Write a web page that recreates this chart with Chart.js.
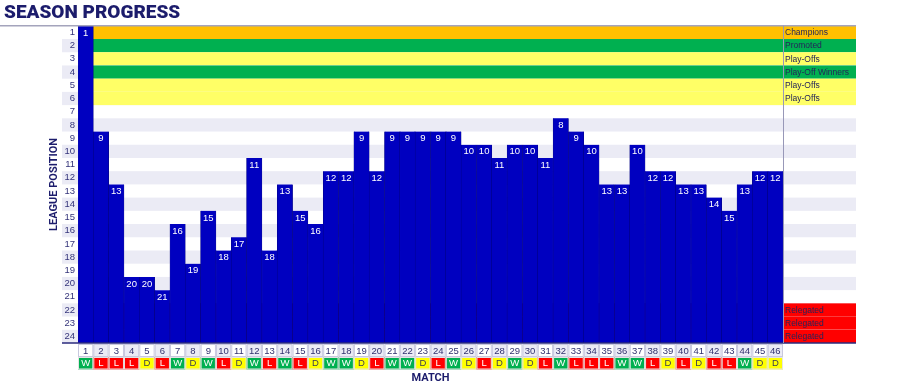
<!DOCTYPE html>
<html>
<head>
<meta charset="utf-8">
<title>Season Progress</title>
<script src="https://cdn.jsdelivr.net/npm/chart.js@4.4.1/dist/chart.umd.min.js"></script>
<style>
  body { margin: 0; background: #fff; }
  #wrap { width: 900px; height: 386px; }
</style>
</head>
<body>
<div id="wrap"><canvas id="progress"></canvas></div>
<script>
// Start Data
const matches = ['1','2','3','4','5','6','7','8','9','10','11','12','13','14','15','16','17','18','19','20','21','22','23',
  '24','25','26','27','28','29','30','31','32','33','34','35','36','37','38','39','40','41','42','43','44','45','46'];
const positions = [1, 9, 13, 20, 20, 21, 16, 19, 15, 18, 17, 11, 18, 13, 15, 16, 12, 12, 9, 12, 9, 9, 9,
  9, 9, 10, 10, 11, 10, 10, 11, 8, 9, 10, 13, 13, 10, 12, 12, 13, 13, 14, 15, 13, 12, 12];
const results = ['W','L','L','L','D','L','W','D','W','L','D','W','L','W','L','D','W','W','D','L','W','W','D',
  'L','W','D','L','D','W','D','L','W','L','L','L','W','W','L','D','L','D','L','L','W','D','D'];
const rowLabels = [1,2,3,4,5,6,7,8,9,10,11,12,13,14,15,16,17,18,19,20,21,22,23,24];
const zoneRows = [1, 2, 3, 4, 5, 6, 22, 23, 24];
const zoneNames = ['Champions','Promoted','Play-Offs','Play-Off Winners','Play-Offs','Play-Offs','Relegated','Relegated','Relegated'];
const zoneColors = ['#ffc000','#00b050','#ffff66','#00b050','#ffff66','#ffff66','#ff0000','#ff0000','#ff0000'];
const resultColors = { W: '#00b050', L: '#ff0000', D: '#ffff00' };
// End Data

const LAV = '#ebebf5';
const NAVY = '#1c1c6c';
const SMALL = '"Liberation Sans", Arial, sans-serif';

// Start Background / Extras
const extras = {
  id: 'extras',
  beforeDraw(chart) {
    const { ctx, chartArea: a, scales: { x, y } } = chart;
    const legendRight = a.right + 73;
    ctx.save();
    rowLabels.forEach(function(r){
      const y0 = y.getPixelForValue(r - 0.5), y1 = y.getPixelForValue(r + 0.5);
      const z = zoneRows.indexOf(r);
      if (r % 2 === 0) {
        ctx.fillStyle = LAV;
        ctx.fillRect(a.left - 16, y0, legendRight - a.left + 16, y1 - y0);
      }
      if (z >= 0) {
        ctx.fillStyle = zoneColors[z];
        ctx.fillRect(a.left, y0, legendRight - a.left, y1 - y0);
      }
    });
    // match number cells
    const cw = x.getPixelForValue(1) - x.getPixelForValue(0);
    matches.forEach(function(m, i){
      const cx = x.getPixelForValue(i) - cw / 2;
      ctx.fillStyle = i % 2 ? LAV : '#fff';
      ctx.fillRect(cx, a.bottom + 1, cw, 13);
      ctx.strokeStyle = '#c8c8de';
      ctx.lineWidth = 1;
      ctx.strokeRect(cx + 0.5, a.bottom + 1.5, cw - 1, 12);
    });
    ctx.restore();
  },
  afterDatasetsDraw(chart) {
    const { ctx, scales: { y } } = chart;
    const meta = chart.getDatasetMeta(0);
    ctx.save();
    ctx.fillStyle = '#fff';
    ctx.font = '9.5px ' + SMALL;
    ctx.textAlign = 'center';
    ctx.textBaseline = 'middle';
    meta.data.forEach(function(bar, i){
      ctx.fillText(String(positions[i]), bar.x, y.getPixelForValue(positions[i]) + 0.5);
    });
    ctx.restore();
  },
  afterDraw(chart) {
    const { ctx, chartArea: a, scales: { x, y } } = chart;
    const legendRight = a.right + 73;
    ctx.save();
    // zone names
    ctx.font = '8.5px ' + SMALL;
    ctx.textAlign = 'left';
    ctx.textBaseline = 'middle';
    ctx.fillStyle = '#24245a';
    zoneRows.forEach(function(r, i){
      ctx.fillText(zoneNames[i], a.right + 2, y.getPixelForValue(r) + 0.5, 71);
    });
    // lines
    ctx.lineWidth = 1.5;
    ctx.strokeStyle = '#a4a4bc';
    ctx.beginPath(); ctx.moveTo(0, a.top); ctx.lineTo(legendRight, a.top); ctx.stroke();
    ctx.strokeStyle = '#2a2a7c';
    ctx.beginPath(); ctx.moveTo(a.left - 16, a.bottom); ctx.lineTo(legendRight, a.bottom); ctx.stroke();
    ctx.lineWidth = 1;
    ctx.strokeStyle = '#9898b8';
    ctx.beginPath(); ctx.moveTo(a.right + 0.5, a.top); ctx.lineTo(a.right + 0.5, a.bottom); ctx.stroke();
    // results row
    const cw = x.getPixelForValue(1) - x.getPixelForValue(0);
    ctx.font = '9.5px ' + SMALL;
    ctx.textAlign = 'center';
    results.forEach(function(r, i){
      const cx = x.getPixelForValue(i) - cw / 2;
      ctx.fillStyle = resultColors[r];
      ctx.fillRect(cx, a.bottom + 14, cw, 12.5);
      ctx.strokeStyle = '#e4e4e4';
      ctx.strokeRect(cx + 0.5, a.bottom + 14.5, cw - 1, 11.5);
      ctx.fillStyle = r === 'D' ? '#3c3c50' : '#fff';
      ctx.fillText(r, x.getPixelForValue(i), a.bottom + 20.5);
    });
    // x title
    ctx.fillStyle = NAVY;
    ctx.font = 'bold 11px Roboto, ' + SMALL;
    ctx.fillText('MATCH', (a.left + a.right) / 2, a.bottom + 35);
    ctx.restore();
  }
};
// End Background / Extras

// Start Chart
const ctx = document.getElementById('progress');
new Chart(ctx, {
  type: 'bar',
  data: {
    labels: matches,
    datasets: [{
      data: positions.map(function(p){ return [p - 0.5, 24.5]; }),
      backgroundColor: '#0000c0',
      borderColor: '#00007a',
      borderWidth: { left: 0.5, right: 0.5, top: 0, bottom: 0 },
      borderSkipped: false,
      categoryPercentage: 1,
      barPercentage: 1
    }]
  },
  options: {
    responsive: true,
    maintainAspectRatio: false,
    animation: false,
    layout: { padding: { left: 4, right: 117, top: 0, bottom: 0 } },
    plugins: {
      legend: { display: false },
      tooltip: { enabled: false },
      title: {
        display: true,
        text: 'SEASON PROGRESS',
        align: 'start',
        color: NAVY,
        font: { family: 'Roboto', size: 19, weight: '900' },
        padding: { top: 2, bottom: 1 }
      }
    },
    scales: {
      x: {
        grid: { display: false, drawTicks: false },
        border: { display: false },
        ticks: { color: '#30306e', font: { family: SMALL, size: 9.5 }, autoSkip: false, maxRotation: 0, padding: 3 },
        afterFit: function(scale){ scale.height = 43; }
      },
      y: {
        reverse: true,
        min: 0.5,
        max: 24.5,
        grid: { display: false, drawTicks: false },
        border: { display: false },
        afterBuildTicks: function(scale){ scale.ticks = rowLabels.map(function(v){ return { value: v }; }); },
        ticks: { color: '#34347a', font: { family: SMALL, size: 9.5 }, padding: 3, autoSkip: false },
        title: {
          display: true,
          text: 'LEAGUE POSITION',
          color: NAVY,
          font: { family: 'Roboto', size: 11, weight: 'bold' },
          padding: { top: 44, bottom: 0 }
        },
        afterFit: function(scale){ scale.width = 74; }
      }
    }
  },
  plugins: [extras]
});
// End Chart
</script>
</body>
</html>
